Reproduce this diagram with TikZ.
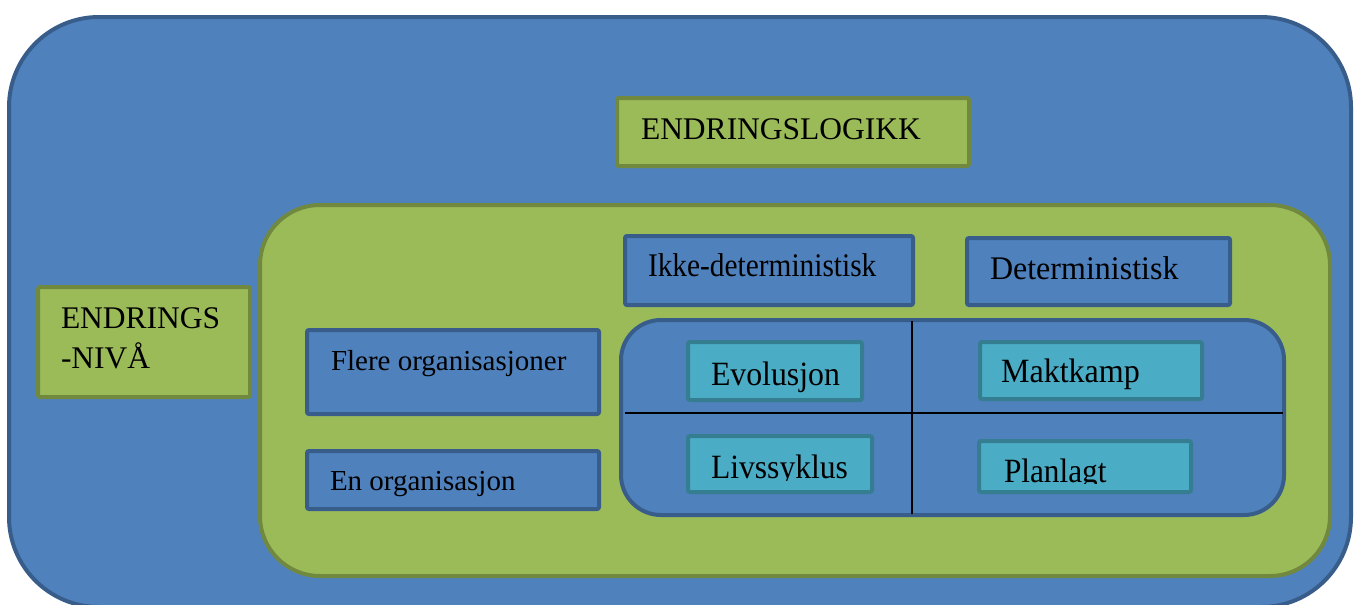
\documentclass[tikz,border=0pt]{standalone}
\usepackage{fontspec}
\setmainfont{Liberation Serif}
\definecolor{bfill}{HTML}{4F81BD}
\definecolor{bline}{HTML}{385D8A}
\definecolor{gfill}{HTML}{9BBB59}
\definecolor{gline}{HTML}{71893F}
\definecolor{tfill}{HTML}{4BACC6}
\definecolor{tline}{HTML}{357D91}
\newcommand\lbl[3]{\fontsize{#1}{#1}\selectfont\scalebox{#2}[1]{#3}}
\tikzset{
  bx/.style={rectangle, anchor=north west, inner sep=0pt, outer sep=0pt, line width=4pt, rounded corners=2pt},
  bluebox/.style={bx, draw=bline, fill=bfill},
  greenbox/.style={bx, draw=gline, fill=gfill},
  tealbox/.style={bx, draw=tline, fill=tfill},
  txt/.style={anchor=base west, inner sep=0pt, outer sep=0pt, text=black},
  divider/.style={line width=1.8pt, draw=black}
}
\begin{document}
\begin{tikzpicture}[x=1pt,y=-1pt]
\useasboundingbox (0,0) rectangle (1360,605);
\begin{scope}
\clip (0,0) rectangle (1360,605);
% outer frame
\node[bluebox, rounded corners=90pt, minimum width=1342pt, minimum height=590pt] (outer) at (9,17) {};
\end{scope}
% top label
\node[greenbox, minimum width=352pt, minimum height=68pt] (logikk) at (617,98) {};
\node[txt] (logikkt) at (641,139) {\lbl{31.5}{1}{ENDRINGSLOGIKK}};
% left label
\node[greenbox, minimum width=212pt, minimum height=110pt] (niva) at (38,287) {};
\node[txt] (nivat1) at (61,328) {\lbl{31.5}{1}{ENDRINGS}};
\node[txt] (nivat2) at (61,368) {\lbl{31.5}{1}{-NIVÅ}};
% green area
\node[greenbox, rounded corners=60pt, minimum width=1070pt, minimum height=371pt] (green) at (260,205) {};
% column heads
\node[bluebox, minimum width=288pt, minimum height=69pt] (ikke) at (625,236) {};
\node[txt] (ikket) at (648,276) {\lbl{33}{0.89}{Ikke-deterministisk}};
\node[bluebox, minimum width=263pt, minimum height=67pt] (det) at (967,238) {};
\node[txt] (dett) at (990,279) {\lbl{33}{0.97}{Deterministisk}};
% row heads
\node[bluebox, minimum width=292pt, minimum height=84pt] (flere) at (307,330) {};
\node[txt] (fleret) at (331,370) {\lbl{29}{1}{Flere organisasjoner}};
\node[bluebox, minimum width=292pt, minimum height=58pt] (en) at (307,451) {};
\node[txt] (ent) at (330,490) {\lbl{29}{1}{En organisasjon}};
% matrix
\node[bluebox, rounded corners=40pt, minimum width=663pt, minimum height=195pt] (matrix) at (621,320) {};
\coordinate (vtop) at (912,321);
\coordinate (vbot) at (912,514);
\coordinate (hleft) at (625,413);
\coordinate (hright) at (1283,413);
\draw[divider] (vtop) -- (vbot);
\draw[divider] (hleft) -- (hright);
% cells
\node[tealbox, minimum width=174pt, minimum height=58pt] (evo) at (688,342) {};
\node[txt] (evot) at (711,385) {\lbl{34}{0.935}{Evolusjon}};
\node[tealbox, minimum width=222pt, minimum height=57pt] (makt) at (980,342) {};
\node[txt] (maktt) at (1001,382) {\lbl{34}{0.943}{Maktkamp}};
\node[tealbox, minimum width=184pt, minimum height=56pt] (livs) at (688,436) {};
\begin{scope}
\clip (690,438) rectangle (870,480);
\node[txt] (livst) at (711,478) {\lbl{34}{0.93}{Livssyklus}};
\end{scope}
\node[tealbox, minimum width=212pt, minimum height=51pt] (plan) at (979,441) {};
\begin{scope}
\clip (981,443) rectangle (1189,483);
\node[txt] (plant) at (1004,482) {\lbl{34}{0.92}{Planlagt}};
\end{scope}
\end{tikzpicture}
\end{document}
